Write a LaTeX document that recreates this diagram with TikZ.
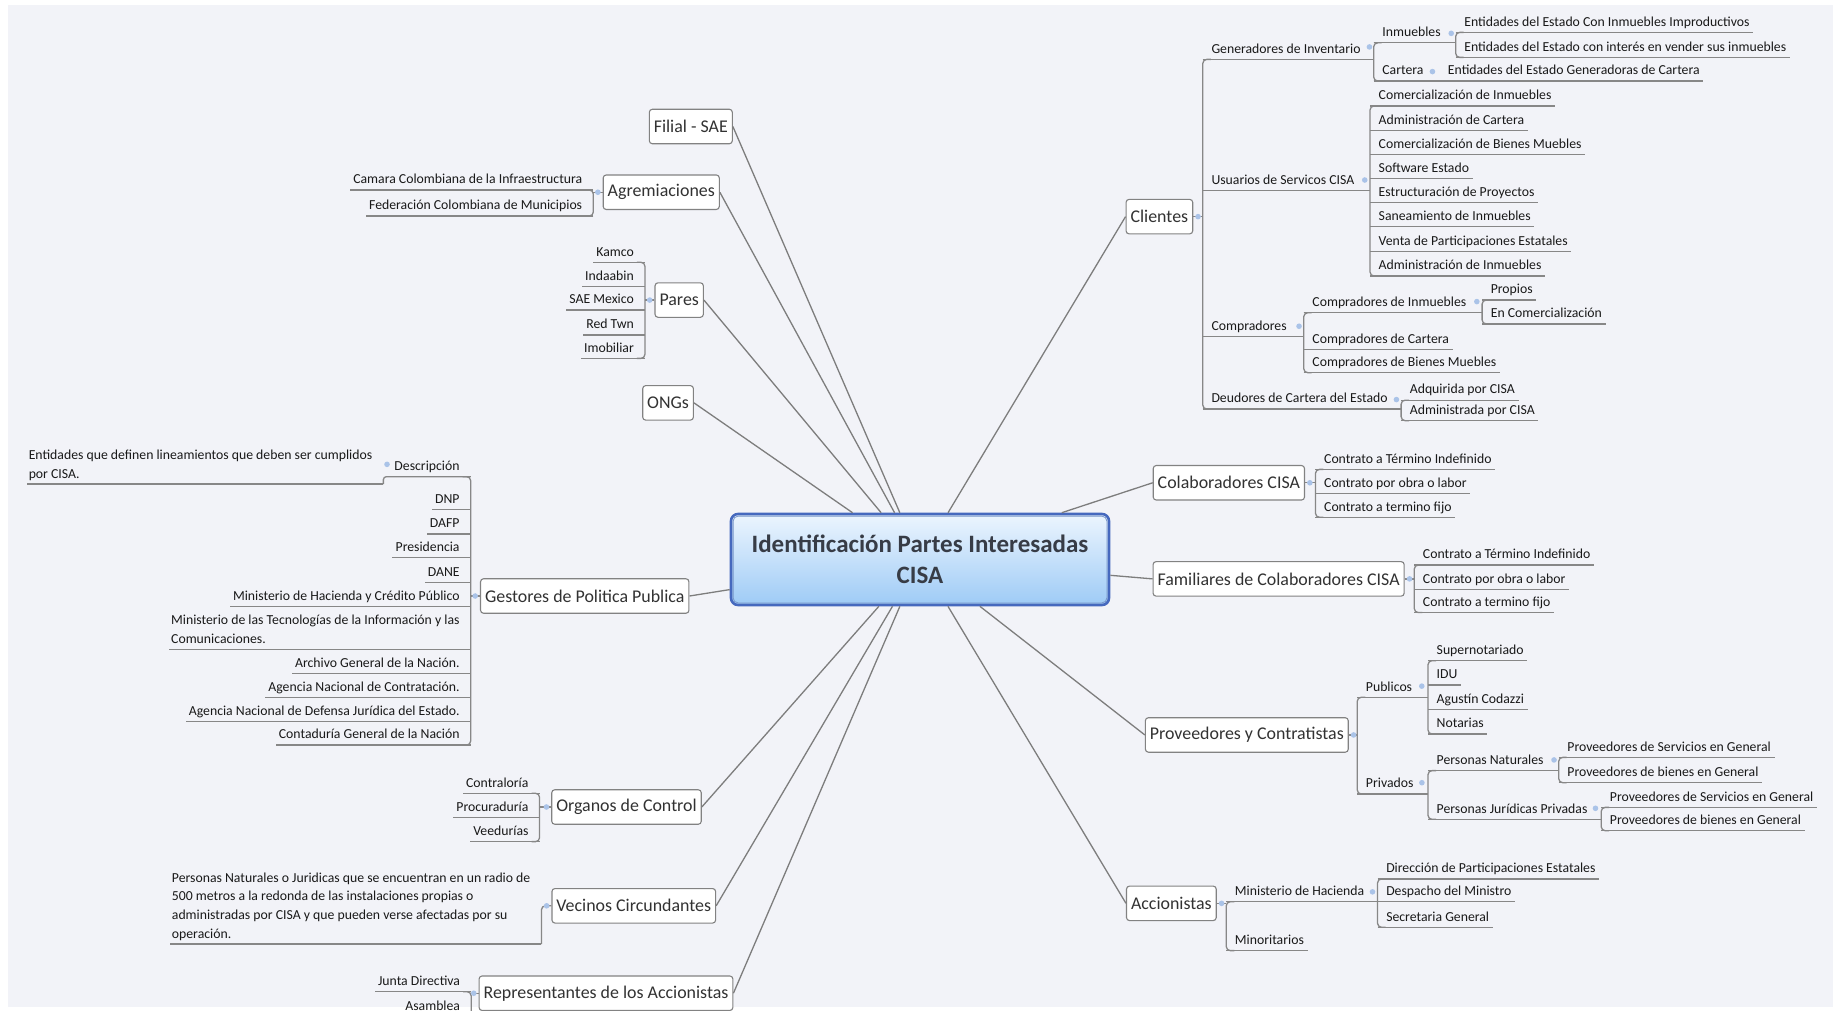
\documentclass[tikz,border=0pt]{standalone}
\usepackage{fontspec}
\setmainfont{Carlito}
\usetikzlibrary{calc}
\definecolor{bgc}{RGB}{242,243,248}
\definecolor{lnc}{RGB}{135,135,135}
\definecolor{cnc}{RGB}{125,125,125}
\definecolor{txt}{RGB}{25,25,25}
\definecolor{btx}{RGB}{50,50,50}
\definecolor{boxc}{RGB}{130,130,130}
\definecolor{dotc}{RGB}{170,195,232}
\definecolor{cbl}{RGB}{70,105,190}
\definecolor{cin}{RGB}{120,150,200}
\definecolor{ctop}{RGB}{236,245,254}
\definecolor{cbot}{RGB}{158,203,246}
\definecolor{ctx}{RGB}{55,60,70}
\tikzset{
  lbl/.style={inner sep=0pt, text height=10pt, text depth=6pt, font=\fontsize{13.75}{16}\selectfont, text=txt},
  lpar/.style={inner sep=0pt, align=left, font=\fontsize{13.75}{18.7}\selectfont, text=txt},
  ln/.style={draw=lnc, line width=1.3pt},
  conn/.style={draw=cnc, line width=1.3pt},
  bx/.style={draw=boxc, fill=white, rounded corners=3pt, line width=1.1pt, inner xsep=4.5pt, inner ysep=0pt, minimum height=34.5pt, font=\fontsize{17.9}{20}\selectfont, text=btx},
  dt/.style={fill=dotc}
}
% right child: name, bracket x, underline y, text
\newcommand\rch[4]{\coordinate (#1u) at (#2,#3);\node[lbl,anchor=south west,xshift=8.5pt] (#1) at (#1u) {#4};\draw[ln] (#1u) -- ([xshift=3.5pt]#1.south east);}
\newcommand\lch[4]{\coordinate (#1u) at (#2,#3);\node[lbl,anchor=south east,xshift=-10.9pt] (#1) at (#1u) {#4};\draw[ln] (#1u) -- ([xshift=-3pt]#1.south west);}
\newcommand\lchp[4]{\coordinate (#1u) at (#2,#3);\node[lpar,anchor=south east,xshift=-10.9pt] (#1) at (#1u) {#4};\draw[ln] (#1u) -- ([xshift=-2pt]#1.south west);}
\newcommand\rbk[2]{\draw[ln,rounded corners=4pt] ([xshift=8pt]#1u) -- (#1u) -- (#2u) -- ([xshift=8pt]#2u);}
\newcommand\lbk[2]{\draw[ln,rounded corners=4pt] ([xshift=-8pt]#1u) -- (#1u) -- (#2u) -- ([xshift=-8pt]#2u);}
\newcommand\rlink[2]{\draw[ln] (#1.east) -- (#1.east -| #2u);\fill[dt] ([xshift=4.8pt]#1.east) circle (2.8pt);}
\newcommand\llink[2]{\draw[ln] (#1.west) -- (#1.west -| #2u);\fill[dt] ([xshift=-4.8pt]#1.west) circle (2.8pt);}
\newcommand\ext[2]{\draw[ln] (#1u) -- (#1u -| #2u);}
\newcommand\dotat[2]{\fill[dt] (#1,#2) circle (2.8pt);}

\begin{document}
\begin{tikzpicture}[x=1.17347pt,y=-1.17347pt]
\useasboundingbox (0,0) rectangle (1568,861);
\fill[white] (0,0) rectangle (1568,861);
\fill[bgc] (6.8,4.3) rectangle (1562,858.5);
\clip (0,0) rectangle (1568,861);

% central node
\node[draw=cbl, line width=2.6pt, rounded corners=7pt, top color=ctop, bottom color=cbot,
      minimum width=378pt, minimum height=91pt, align=center, inner sep=0pt,
      font=\fontsize{25}{31}\selectfont\bfseries, text=ctx] (cisa) at (784,476.8)
      {Identificación Partes Interesadas\\CISA};
\draw[cin, line width=0.8pt, rounded corners=5pt] ([shift={(3.4pt,-3.4pt)}]cisa.north west) rectangle ([shift={(-3.4pt,3.4pt)}]cisa.south east);

% ---------------- right side ----------------
\node[bx] (cli) at (988,184.6) {Clientes};
\rch{gen}{1025}{50.6}{Generadores de Inventario}
\rch{usu}{1025}{162.5}{Usuarios de Servicos CISA}
\rch{comp}{1025}{287}{Compradores}
\rch{deu}{1025}{348.6}{Deudores de Cartera del Estado}
\rbk{gen}{deu}
\rlink{cli}{gen}

\rch{inm}{1170.6}{36.5}{Inmuebles}
\rch{car}{1170.6}{69}{Cartera}
\rbk{inm}{car}
\ext{gen}{inm}
\dotat{1167}{40}

\rch{ea}{1240.5}{27.6}{Entidades del Estado Con Inmuebles Improductivos}
\rch{eb}{1240.5}{48.9}{Entidades del Estado con interés en vender sus inmuebles}
\rbk{ea}{eb}
\ext{inm}{ea}
\dotat{1236.7}{28.4}

\rch{ec}{1226.5}{69}{Entidades del Estado Generadoras de Cartera}
\draw[ln] (caru) -- (ecu);
\dotat{1220.7}{61}

\rch{ua}{1167.5}{90.3}{Comercialización de Inmuebles}
\rch{ub}{1167.5}{111.4}{Administración de Cartera}
\rch{uc}{1167.5}{131.5}{Comercialización de Bienes Muebles}
\rch{ud}{1167.5}{152}{Software Estado}
\rch{ue}{1167.5}{172.7}{Estructuración de Proyectos}
\rch{uf}{1167.5}{193.2}{Saneamiento de Inmuebles}
\rch{ug}{1167.5}{214.5}{Venta de Participaciones Estatales}
\rch{uh}{1167.5}{235.2}{Administración de Inmuebles}
\rbk{ua}{uh}
\ext{usu}{ua}
\dotat{1163}{153.4}

\rch{ca}{1111}{266.5}{Compradores de Inmuebles}
\rch{cb}{1111}{297.6}{Compradores de Cartera}
\rch{cc}{1111}{317.6}{Compradores de Bienes Muebles}
\rbk{ca}{cc}
\ext{comp}{ca}
\dotat{1107}{278}

\rch{pa}{1263}{255.7}{Propios}
\rch{pb}{1263}{276}{En Comercialización}
\rbk{pa}{pb}
\ext{ca}{pa}
\dotat{1258.5}{257}

\rch{da}{1194}{341}{Adquirida por CISA}
\rch{db}{1194}{358.5}{Administrada por CISA}
\rbk{da}{db}
\ext{deu}{da}
\dotat{1190}{340.5}

\node[bx] (colab) at (1047.2,411.4) {Colaboradores CISA};
\rch{ka}{1121}{400}{Contrato a Término Indefinido}
\rch{kb}{1121}{420.4}{Contrato por obra o labor}
\rch{kc}{1121}{440.8}{Contrato a termino fijo}
\rbk{ka}{kc}
\rlink{colab}{ka}

\node[bx] (fam) at (1089.6,493.3) {Familiares de Colaboradores CISA};
\rch{fa}{1205.2}{481.5}{Contrato a Término Indefinido}
\rch{fb}{1205.2}{502.2}{Contrato por obra o labor}
\rch{fc}{1205.2}{522}{Contrato a termino fijo}
\rbk{fa}{fc}
\rlink{fam}{fa}

\node[bx] (prov) at (1062.5,626.3) {Proveedores y Contratistas};
\rch{pub}{1156.6}{594.2}{Publicos}
\rch{pri}{1156.6}{676.6}{Privados}
\rbk{pub}{pri}
\rlink{prov}{pub}

\rch{sa}{1216.9}{563}{Supernotariado}
\rch{sb}{1216.9}{583.7}{IDU}
\rch{sc}{1216.9}{604.5}{Agustín Codazzi}
\rch{sd}{1216.9}{625.5}{Notarias}
\rbk{sa}{sd}
\ext{pub}{sa}
\dotat{1211.6}{584.7}

\rch{pn}{1216.9}{656.7}{Personas Naturales}
\rch{pj}{1216.9}{698.2}{Personas Jurídicas Privadas}
\rbk{pn}{pj}
\ext{pri}{pn}
\dotat{1211.7}{667}

\rch{pna}{1328.3}{645.4}{Proveedores de Servicios en General}
\rch{pnb}{1328.3}{667}{Proveedores de bienes en General}
\rbk{pna}{pnb}
\ext{pn}{pna}
\dotat{1324.3}{647.6}

\rch{pja}{1364.5}{688}{Proveedores de Servicios en General}
\rch{pjb}{1364.5}{707.9}{Proveedores de bienes en General}
\rbk{pja}{pjb}
\ext{pj}{pja}
\dotat{1359.6}{688.8}

\node[bx] (acc) at (998.2,769.8) {Accionistas};
\rch{mh}{1045}{768.4}{Ministerio de Hacienda}
\rch{mi}{1045}{810.1}{Minoritarios}
\rbk{mh}{mi}
\rlink{acc}{mh}

\rch{aa}{1173.9}{749}{Dirección de Participaciones Estatales}
\rch{ab}{1173.9}{768.4}{Despacho del Ministro}
\rch{ac}{1173.9}{790.2}{Secretaria General}
\rbk{aa}{ac}
\ext{mh}{aa}
\dotat{1169.6}{760}

% ---------------- left side ----------------
\node[bx] (fil) at (588.7,107.8) {Filial - SAE};

\node[bx] (agr) at (563.5,163.8) {Agremiaciones};
\lch{ga}{505.6}{161.9}{Camara Colombiana de la Infraestructura}
\lch{gb}{505.6}{184.1}{Federación Colombiana de Municipios}
\lbk{ga}{gb}
\llink{agr}{ga}

\node[bx] (par) at (578.8,255.7) {Pares};
\lch{qa}{549.6}{223.5}{Kamco}
\lch{qb}{549.6}{244.3}{Indaabin}
\lch{qc}{549.6}{264.2}{SAE Mexico}
\lch{qd}{549.6}{285.5}{Red Twn}
\lch{qe}{549.6}{305.4}{Imobiliar}
\lbk{qa}{qe}
\llink{par}{qa}

\node[bx] (ong) at (569.3,343.3) {ONGs};

\node[bx] (ges) at (498.3,507.9) {Gestores de Politica Publica};
\lch{ha}{401.1}{406.2}{Descripción}
\lch{hb}{401.1}{434}{DNP}
\lch{hc}{401.1}{455}{DAFP}
\lch{hd}{401.1}{475.2}{Presidencia}
\lch{he}{401.1}{496.5}{DANE}
\lch{hf}{401.1}{517}{Ministerio de Hacienda y Crédito Público}
\lchp{hg}{401.1}{553.3}{Ministerio de las Tecnologías de la Información y las\\Comunicaciones.\strut}
\lch{hh}{401.1}{573.8}{Archivo General de la Nación.}
\lch{hi}{401.1}{594.2}{Agencia Nacional de Contratación.}
\lch{hj}{401.1}{615}{Agencia Nacional de Defensa Jurídica del Estado.}
\lch{hk}{401.1}{634.9}{Contaduría General de la Nación}
\lbk{ha}{hk}
\llink{ges}{hf}

\lchp{hp}{326.7}{412.5}{Entidades que definen lineamientos que deben ser cumplidos\\por CISA.\strut}
\draw[ln,rounded corners=3pt] (hau) -- (hau -| hpu) -- (hpu);
\dotat{329.8}{395.7}

\node[bx] (org) at (533.9,687.7) {Organos de Control};
\lch{oa}{459.8}{676}{Contraloría}
\lch{ob}{459.8}{696.5}{Procuraduría}
\lch{oc}{459.8}{717.2}{Veedurías}
\lbk{oa}{oc}
\llink{org}{oa}

\node[bx] (vec) at (540.1,771.9) {Vecinos Circundantes};
\lchp{vp}{461.4}{804.5}{Personas Naturales o Juridicas que se encuentran en un radio de\\500 metros a la redonda de las instalaciones propias o\\administradas por CISA y que pueden verse afectadas por su\\operación.\strut}
\draw[ln,rounded corners=4pt] (vec.west) -| (vpu);
\fill[dt] ([xshift=-4.8pt]vec.west) circle (2.8pt);

\node[bx] (rep) at (516.4,846.4) {Representantes de los Accionistas};
\lch{ra}{401.5}{845.1}{Junta Directiva}
\lch{rb}{401.5}{866}{Asamblea}
\lbk{ra}{rb}
\llink{rep}{ra}

% ---------------- central connectors ----------------
\foreach \n in {fil,agr,par,ong,ges,org,vec,rep} \draw[conn] (\n.east) -- (cisa);
\foreach \n in {cli,colab,fam,prov,acc} \draw[conn] (\n.west) -- (cisa);
\end{tikzpicture}
\end{document}
